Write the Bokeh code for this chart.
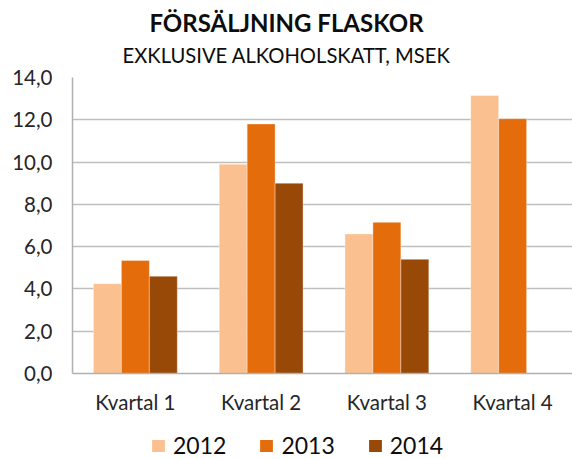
from bokeh.plotting import figure
from bokeh.layouts import column
from bokeh.models import Range1d, FixedTicker, Label, Legend, LegendItem, ColumnDataSource
from bokeh.embed import file_html
from bokeh.resources import INLINE

title_text = "FÖRSÄLJNING FLASKOR"
subtitle_text = "EXKLUSIVE ALKOHOLSKATT, MSEK"
categories = ["Kvartal 1", "Kvartal 2", "Kvartal 3", "Kvartal 4"]
years = ["2012", "2013", "2014"]
values_2012 = [4.25, 9.9, 6.6, 13.15]
values_2013 = [5.35, 11.8, 7.15, 12.05]
values_2014 = [4.6, 9.0, 5.4, None]
colors = ["#FAC090", "#E46C0A", "#984807"]
y_ticks = [0, 2, 4, 6, 8, 10, 12, 14]

FONT = "Lato"
W = 572
LEFT = 72
TOP_H, MAIN_H, BOT_H = 66, 353, 40


def bare(fig):
    fig.outline_line_color = None
    fig.xgrid.grid_line_color = None
    fig.ygrid.grid_line_color = None
    return fig


# ---- title strip (x range in page pixels of the frame) ----
top = bare(figure(width=W, height=TOP_H, output_backend="svg", toolbar_location=None,
                  x_range=Range1d(LEFT, W), y_range=Range1d(TOP_H, 0),
                  x_axis_type=None, y_axis_type=None,
                  min_border_left=LEFT, min_border_right=0, min_border_top=0, min_border_bottom=0))
top.add_layout(Label(x=W / 2, y=22, text=title_text, text_font=FONT, text_font_size="24px",
                     text_font_style="bold", text_align="center", text_baseline="middle",
                     text_color="#0D0D0D"))
top.add_layout(Label(x=W / 2, y=54, text=subtitle_text, text_font=FONT, text_font_size="20.2px",
                     text_align="center", text_baseline="middle", text_color="#0D0D0D"))

# ---- main chart ----
p = figure(width=W, height=MAIN_H, output_backend="svg", toolbar_location=None,
           x_range=Range1d(0.5, 4.476), y_range=Range1d(0, 14),
           min_border_left=LEFT, min_border_right=0, min_border_top=11, min_border_bottom=46)
p.outline_line_color = None

series = [values_2012, values_2013, values_2014]
bar_w = 0.2222
for i, vals in enumerate(series):
    xs = [k + 1 + (i - 1) * bar_w for k, v in enumerate(vals) if v is not None]
    ys = [v for v in vals if v is not None]
    src = ColumnDataSource(dict(x=xs, top=ys))
    p.vbar(x="x", top="top", width=bar_w, bottom=0, source=src,
           fill_color=colors[i], line_color="white", line_alpha=0.35, line_width=1)

p.xaxis.ticker = FixedTicker(ticks=[1, 2, 3, 4])
p.xaxis.major_label_overrides = {k + 1: c for k, c in enumerate(categories)}
p.yaxis.ticker = FixedTicker(ticks=y_ticks)
p.yaxis.major_label_overrides = {t: f"{t:.1f}".replace(".", ",") for t in y_ticks}
for ax in (p.xaxis[0], p.yaxis[0]):
    ax.axis_line_color = "#B0B0B0"
    ax.axis_line_width = 1.5
    ax.major_tick_line_color = None
    ax.minor_tick_line_color = None
    ax.major_tick_out = 0
    ax.major_tick_in = 0
    ax.minor_tick_out = 0
    ax.minor_tick_in = 0
    ax.major_label_text_font = FONT
    ax.major_label_text_color = "#262626"
p.xaxis.major_label_text_font_size = "20.5px"
p.yaxis.major_label_text_font_size = "20.5px"
p.xaxis.major_label_standoff = 16
p.yaxis.major_label_standoff = 20

p.xgrid.grid_line_color = None
p.ygrid.grid_line_color = "#BFBFBF"
p.ygrid.grid_line_width = 1.5

# ---- legend strip ----
bot = bare(figure(width=W, height=BOT_H, output_backend="svg", toolbar_location=None,
                  x_range=Range1d(0, 1), y_range=Range1d(0, 1),
                  x_axis_type=None, y_axis_type=None,
                  min_border_left=LEFT, min_border_right=0, min_border_top=0, min_border_bottom=0))
leg_renderers = [bot.vbar(x=[-5], top=[-5], bottom=-6, width=0.1, fill_color=c, line_color=None)
                 for c in colors]
legend = Legend(items=[LegendItem(label=y, renderers=[r]) for y, r in zip(years, leg_renderers)],
                orientation="horizontal", location=(78, 0),
                label_text_font=FONT, label_text_font_size="23px", label_text_color="#0D0D0D",
                glyph_width=16, glyph_height=15, spacing=32, label_standoff=7,
                padding=0, margin=0,
                border_line_color=None, background_fill_alpha=0)
bot.add_layout(legend, "center")

layout = column(top, p, bot, spacing=0)
open("out.html", "w").write(file_html(layout, INLINE))
